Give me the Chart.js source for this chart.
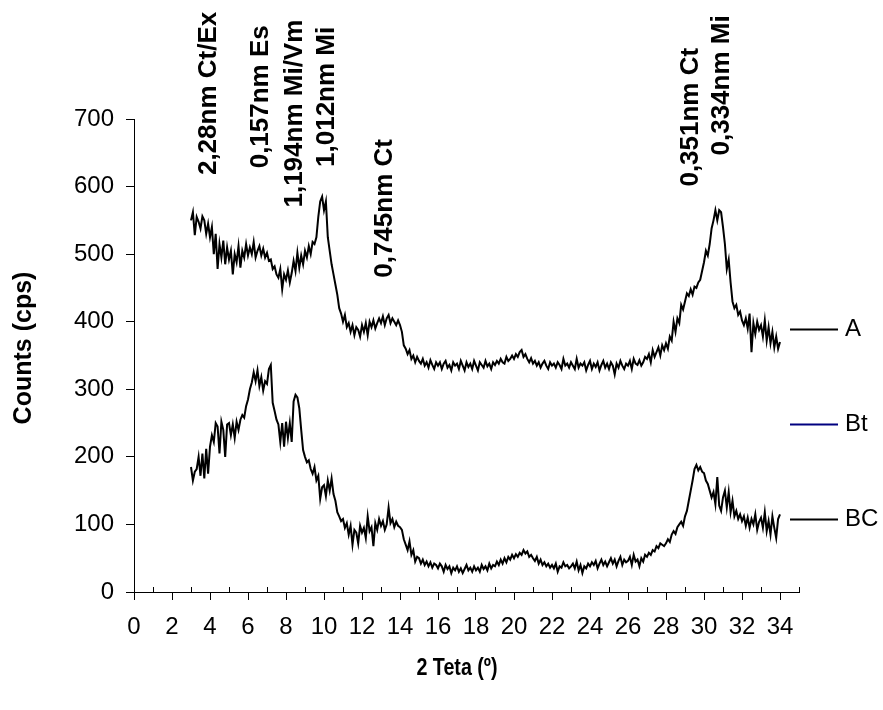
<!DOCTYPE html>
<html>
<head>
<meta charset="utf-8">
<script src="https://cdn.jsdelivr.net/npm/chart.js@4.4.1/dist/chart.umd.min.js"></script>
<style>
  html, body { margin: 0; padding: 0; background: #ffffff; }
  canvas { display: block; }
</style>
</head>
<body>
<canvas id="c" width="883" height="710"></canvas>
<script>
// ---- scan parameters (2θ, degrees) ----
const startAngle = 3.0;
const stepAngle = 0.1;

// ---- series values (counts, cps), one value per 0.1° from 3.0° to 34.0° ----
const countsA = [
  550,562,528,555,548,538,556,550,530,545,
  525,540,500,530,478,515,495,520,485,510,
  492,505,470,500,488,512,480,505,495,515,
  498,510,500,518,495,505,512,498,508,495,
  502,490,492,478,482,470,465,478,448,470,
  462,476,458,472,490,475,502,480,498,485,
  505,495,512,500,518,515,525,555,578,585,
  565,578,525,505,485,470,455,440,420,412,
  400,410,392,398,385,395,380,392,388,378,
  395,385,398,380,400,392,402,390,398,405,
  398,408,395,405,410,398,405,400,395,402,
  395,385,365,360,352,358,345,350,340,348,
  342,338,345,335,340,332,343,336,330,340,
  335,340,330,338,342,332,336,328,340,335,
  338,330,342,335,328,340,333,338,330,342,
  335,328,340,336,332,342,334,338,330,340,
  336,342,338,345,340,338,348,342,345,350,
  345,352,348,355,358,348,352,345,340,346,
  338,342,335,340,332,338,342,335,330,340,
  335,338,332,340,336,330,345,335,338,332,
  340,335,330,345,332,338,335,340,328,336,
  342,330,338,333,340,328,336,342,332,338,
  330,340,335,322,338,332,342,335,330,338,
  335,342,330,345,338,336,343,335,340,348,
  345,352,340,358,348,355,362,350,365,358,
  368,360,378,372,400,385,405,398,425,418,
  430,442,438,448,440,452,450,458,462,475,
  488,505,498,515,538,550,565,550,565,562,
  540,515,478,492,458,430,420,425,410,415,
  402,395,405,390,412,355,398,382,400,388,
  395,378,402,372,392,368,385,362,378,360,370
];
const countsBt = [];
const countsBC = [
  185,165,178,182,200,172,205,168,212,175,
  215,232,222,250,245,205,252,240,200,248,
  250,232,248,228,252,240,255,262,258,275,
  285,300,310,325,312,328,305,318,298,312,
  308,330,336,280,268,255,248,222,250,215,
  252,228,250,222,282,292,288,272,240,210,
  200,192,195,182,175,185,165,172,138,155,
  158,142,165,150,168,145,135,118,112,105,
  108,95,102,85,98,70,92,88,72,98,
  88,95,80,112,90,96,68,102,92,108,
  98,105,92,100,125,102,108,96,104,98,
  96,92,78,70,62,75,55,62,45,52,
  50,42,48,40,45,38,44,36,42,40,
  35,42,38,30,40,34,38,28,36,32,
  38,30,35,28,34,40,32,36,30,38,
  32,36,30,40,34,38,32,42,35,40,
  38,45,40,48,42,50,44,52,48,55,
  50,56,52,58,55,62,57,60,52,55,
  50,46,52,42,48,40,44,38,42,36,
  40,35,42,30,38,36,44,38,40,35,
  38,42,35,45,32,40,28,38,35,42,
  38,44,40,46,35,42,48,40,45,38,
  44,50,42,48,38,46,52,40,48,44,
  46,52,40,55,45,48,38,50,45,55,
  52,58,55,62,60,68,65,72,70,68,
  72,78,74,85,90,86,96,100,104,98,
  112,120,135,150,165,182,188,180,185,178,
  176,165,160,150,140,148,130,170,128,120,
  140,150,125,148,118,135,112,120,108,115,
  105,112,98,110,95,108,100,115,92,104,
  110,95,118,90,105,85,112,95,80,108,115
];

// ---- labels ----
const seriesNames = ['A', 'Bt', 'BC'];
const peakLabels = ['2,28nm Ct/Ex', '0,157nm Es', '1,194nm Mi/Vm', '1,012nm Mi', '0,745nm Ct', '0,351nm Ct', '0,334nm Mi'];
const xTitle = '2 Teta (º)';
const yTitle = 'Counts (cps)';

// angle grid of the scan
const twoTheta = countsA.map((_, i) => Math.round((startAngle + i * stepAngle) * 10) / 10);
const toPoints = (vals) => vals.map((v, i) => ({ x: twoTheta[i], y: v }));

// annotation anchors (2θ of text column centre, count level of text start)
const peakAnchors = [
  { x: 3.95, y: 617 }, { x: 6.71, y: 627 }, { x: 8.47, y: 569 }, { x: 10.18, y: 629 },
  { x: 13.24, y: 465 }, { x: 29.32, y: 600 }, { x: 30.97, y: 646 }
];

const FONT = '"Liberation Sans", Arial, Helvetica, sans-serif';

const overlay = {
  id: 'overlay',
  afterDraw(chart) {
    const { ctx, chartArea, scales: { x, y } } = chart;
    ctx.save();
    // minor ticks (inside, odd degrees)
    ctx.strokeStyle = '#000';
    ctx.lineWidth = 1;
    for (let v = 1; v <= 35; v += 2) {
      const px = Math.round(x.getPixelForValue(v)) + 0.5;
      ctx.beginPath();
      ctx.moveTo(px, chartArea.bottom);
      ctx.lineTo(px, chartArea.bottom - 5);
      ctx.stroke();
    }
    // peak annotations
    ctx.fillStyle = '#000';
    ctx.font = 'bold 25px ' + FONT;
    ctx.textAlign = 'left';
    ctx.textBaseline = 'middle';
    peakLabels.forEach((t, i) => {
      const a = peakAnchors[i];
      ctx.save();
      ctx.translate(x.getPixelForValue(a.x), y.getPixelForValue(a.y));
      ctx.rotate(-Math.PI / 2);
      ctx.scale(1.04, 1);
      ctx.fillText(t, 0, 0);
      ctx.restore();
    });
    // y title
    ctx.save();
    ctx.font = 'bold 25px ' + FONT;
    ctx.textAlign = 'center';
    ctx.textBaseline = 'middle';
    ctx.translate(24, 348);
    ctx.rotate(-Math.PI / 2);
    ctx.fillText(yTitle, 0, 0);
    ctx.restore();
    // x title
    ctx.save();
    ctx.font = 'bold 24px ' + FONT;
    ctx.textAlign = 'center';
    ctx.textBaseline = 'middle';
    ctx.translate(457, 668);
    ctx.scale(0.82, 1);
    ctx.fillText(xTitle, 0, 0);
    ctx.restore();
    // legend
    ctx.font = '24px ' + FONT;
    ctx.textAlign = 'left';
    ctx.textBaseline = 'middle';
    chart.data.datasets.forEach((ds, i) => {
      const ly = Math.round(chartArea.top + 210 + i * 95) + 0.5;
      ctx.strokeStyle = ds.borderColor;
      ctx.lineWidth = 2;
      ctx.beginPath();
      ctx.moveTo(790, ly);
      ctx.lineTo(838, ly);
      ctx.stroke();
      ctx.fillStyle = '#000';
      ctx.fillText(ds.label, 845, ly);
    });
    ctx.restore();
  }
};

new Chart(document.getElementById('c'), {
  type: 'line',
  data: {
    datasets: [
      { label: seriesNames[0], data: toPoints(countsA), borderColor: '#000000' },
      { label: seriesNames[1], data: toPoints(countsBt), borderColor: '#000080' },
      { label: seriesNames[2], data: toPoints(countsBC), borderColor: '#000000' }
    ]
  },
  options: {
    responsive: false,
    animation: false,
    devicePixelRatio: 1,
    elements: {
      line: { borderWidth: 2, tension: 0, fill: false },
      point: { radius: 0, hoverRadius: 0 }
    },
    layout: { padding: { top: 119, right: 84, left: 0, bottom: 0 } },
    plugins: { legend: { display: false }, tooltip: { enabled: false } },
    scales: {
      x: {
        type: 'linear',
        min: 0,
        max: 35,
        afterFit: (s) => { s.height = 118; },
        ticks: {
          stepSize: 1,
          includeBounds: false,
          autoSkip: false,
          maxRotation: 0,
          padding: 13,
          color: '#000',
          font: { family: FONT, size: 24 },
          callback: (v) => (v % 2 === 0 && v <= 34 ? String(v) : '')
        },
        grid: {
          drawOnChartArea: false,
          drawTicks: true,
          tickLength: 8,
          color: (c) => (c.tick && c.tick.value % 2 === 0 ? '#000' : 'rgba(0,0,0,0)')
        },
        border: { display: true, color: '#000', width: 1 }
      },
      y: {
        min: 0,
        max: 700,
        afterFit: (s) => { s.width = 134; },
        ticks: {
          stepSize: 100,
          padding: 12,
          color: '#000',
          font: { family: FONT, size: 24 }
        },
        grid: { drawOnChartArea: false, drawTicks: true, tickLength: 8, color: '#000' },
        border: { display: true, color: '#000', width: 1 }
      }
    }
  },
  plugins: [overlay]
});
</script>
</body>
</html>
